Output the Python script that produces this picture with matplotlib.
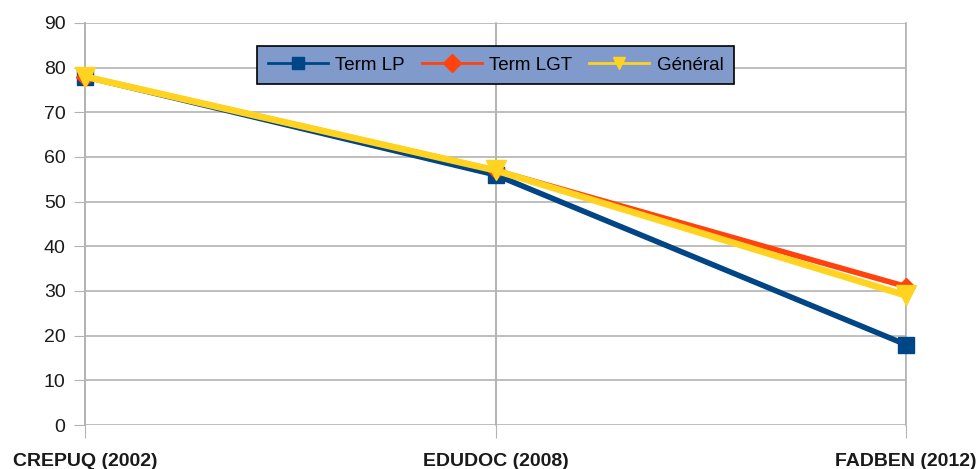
import matplotlib
matplotlib.use('Agg')
import matplotlib.pyplot as plt

plt.rcParams['font.family'] = ['Liberation Sans', 'DejaVu Sans']

categories = ['CREPUQ (2002)', 'EDUDOC (2008)', 'FADBEN (2012)']
term_lp = [78, 56, 18]
term_lgt = [78, 57, 31]
general = [78, 57, 29]
yticks = list(range(0, 100, 10))

fig = plt.figure(figsize=(9.78, 4.69), dpi=100)
ax = fig.add_axes([0.0869, 0.0938, 0.8395, 0.8572])

x = list(range(len(categories)))
grid_c = '#b3b3b3'

ax.plot(x, term_lp, color='#004586', lw=4, marker='s', ms=12, label='Term LP',
        zorder=3, clip_on=False)
ax.plot(x, term_lgt, color='#ff420e', lw=4, marker='D', ms=9, label='Term LGT',
        zorder=4, clip_on=False)
ax.plot(x, general, color='#ffd320', lw=4.8, marker='v', ms=14, label='Général',
        zorder=5, clip_on=False)

ax.set_xlim(0, 2)
ax.set_ylim(0, 90)
ax.set_yticks(yticks)
ax.set_xticks(x)
ax.set_xticklabels(categories, fontweight='bold', fontsize=14)
ax.tick_params(axis='y', labelsize=14, length=8, color=grid_c, pad=6)
ax.tick_params(axis='x', length=9, color=grid_c, pad=11)
ax.grid(True, color=grid_c, lw=1.2)
ax.set_axisbelow(True)
for s in ['top', 'right', 'bottom']:
    ax.spines[s].set_visible(False)
ax.spines['left'].set_color(grid_c)
ax.spines['left'].set_linewidth(1.2)
for lab in ax.get_xticklabels() + ax.get_yticklabels():
    lab.set_color('#1a1a1a')

for xx in x:
    ax.plot([xx, xx], [0, 90], color=grid_c, lw=1.2, zorder=0, clip_on=False)

leg = ax.legend(loc='center', bbox_to_anchor=(0.5, 0.895), ncol=3, fontsize=13.5,
                frameon=True, fancybox=False, framealpha=1, edgecolor='black',
                handlelength=3.2, columnspacing=0.9, handletextpad=0.4,
                borderpad=0.55)
leg.get_frame().set_facecolor('#7f9acb')
leg.get_frame().set_linewidth(1.2)
for h in leg.get_lines():
    h.set_markersize(9)
    h.set_linewidth(2)

fig.savefig('out.png', dpi=100)
